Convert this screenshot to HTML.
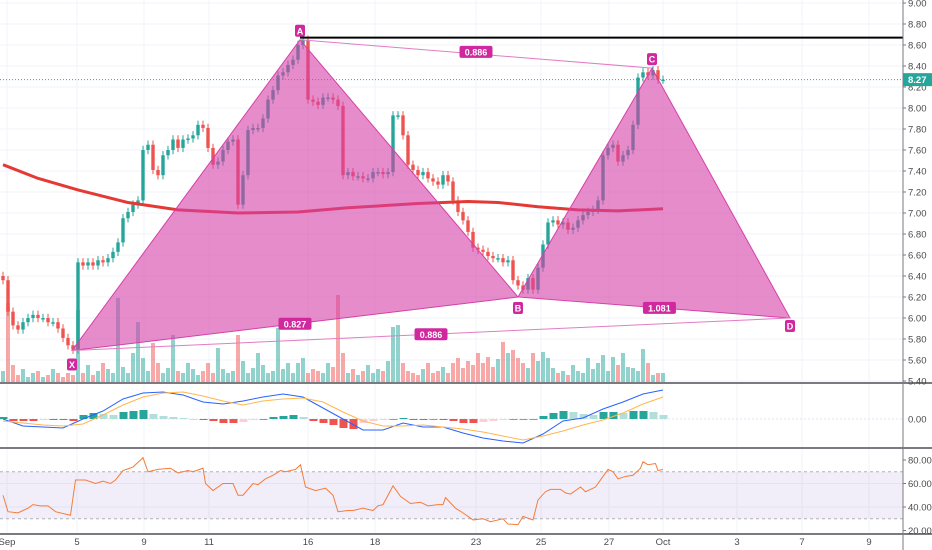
<!DOCTYPE html>
<html><head><meta charset="utf-8"><style>
html,body{margin:0;padding:0;background:#fff;width:932px;height:550px;overflow:hidden}
svg{display:block;font-family:"Liberation Sans",sans-serif}
</style></head><body>
<svg id="c" width="932" height="550" viewBox="0 0 932 550" xmlns="http://www.w3.org/2000/svg"></svg>
<script>
// ---- data ----
const closes=[6.36,6.06,5.93,5.89,5.96,6.00,6.03,6.00,6.00,5.96,5.96,5.90,5.81,5.74,5.70,6.53,6.50,6.53,6.50,6.55,6.53,6.57,6.63,6.72,6.95,7.01,7.08,7.12,7.60,7.65,7.41,7.36,7.55,7.60,7.70,7.62,7.70,7.71,7.74,7.84,7.81,7.62,7.46,7.49,7.60,7.68,7.70,7.08,7.36,7.79,7.81,7.81,7.90,8.08,8.17,8.31,8.34,8.41,8.46,8.60,8.65,8.08,8.06,8.03,8.10,8.10,8.08,8.02,7.36,7.39,7.35,7.35,7.33,7.33,7.39,7.39,7.37,7.39,7.93,7.93,7.74,7.46,7.41,7.36,7.39,7.33,7.30,7.27,7.36,7.30,7.12,7.01,6.93,6.82,6.67,6.65,6.63,6.59,6.57,6.57,6.53,6.55,6.36,6.31,6.27,6.38,6.27,6.48,6.70,6.91,6.93,6.89,6.91,6.84,6.86,6.93,6.98,7.01,7.03,7.12,7.55,7.62,7.65,7.49,7.55,7.60,7.84,8.29,8.34,8.31,8.36,8.27,8.27];
const volumes=[12,80,18,8,14,6,10,12,6,8,14,10,6,10,8,73,10,18,8,12,20,14,10,85,16,10,30,61,25,12,40,20,10,15,48,12,10,20,14,8,12,20,10,35,14,10,12,48,22,10,15,30,18,10,12,55,14,20,10,20,25,10,14,12,10,20,16,88,30,10,14,8,12,18,10,14,12,22,56,58,20,12,10,8,14,20,10,12,16,10,20,25,15,22,18,30,20,26,16,24,41,30,33,25,20,15,30,22,31,25,15,10,12,8,18,12,10,25,14,20,28,12,26,18,30,16,15,12,34,20,8,10,10];
const maBars=[0,7,15,25,35,47,59,69,83,93,99,107,115,123,132];
const maVals=[7.46,7.33,7.22,7.10,7.03,7.00,7.01,7.05,7.09,7.11,7.10,7.06,7.03,7.02,7.04];
const macdBars=[0,4,8,12,16,20,24,28,32,36,40,44,48,52,56,60,64,68,72,76,80,84,88,92,96,100,104,108,112,116,120,124,128,132];
const macdVals=[0.00,-0.07,-0.08,-0.09,0.00,0.08,0.20,0.26,0.27,0.24,0.17,0.15,0.18,0.22,0.25,0.22,0.11,0.00,-0.11,-0.11,-0.04,-0.08,-0.08,-0.14,-0.19,-0.22,-0.24,-0.15,-0.02,0.01,0.10,0.17,0.25,0.29];
const signalVals=[-0.02,-0.04,-0.06,-0.07,-0.05,0.04,0.14,0.22,0.26,0.27,0.23,0.18,0.14,0.18,0.20,0.21,0.17,0.07,-0.02,-0.07,-0.07,-0.06,-0.08,-0.10,-0.13,-0.17,-0.21,-0.17,-0.12,-0.06,-0.01,0.06,0.15,0.22];
const histVals=[0.02,-0.02,-0.02,-0.02,-0.01,-0.01,-0.01,-0.02,0.04,0.06,0.05,0.04,0.07,0.08,0.09,0.05,0.03,0.02,0.01,0.00,-0.01,-0.02,-0.04,-0.04,-0.03,-0.01,0.00,0.02,0.03,0.04,0.02,-0.02,-0.04,-0.06,-0.09,-0.10,-0.04,-0.02,-0.01,0.00,0.01,-0.01,-0.01,0.00,-0.01,-0.02,-0.04,-0.04,-0.03,-0.02,-0.01,0.00,0.00,0.00,0.03,0.06,0.08,0.07,0.05,0.04,0.07,0.07,0.06,0.08,0.08,0.07,0.04];
const rsiBars=[0,1,3,5,6,7.5,9,10.5,13.5,14.5,16.5,18.5,20,21.5,22.5,24,26,28,29,31,33.5,35,37,38,40,40.5,42,44,46,47,48,50,51,52.5,54,55.5,56.5,58.5,59.5,60.5,62.5,64.5,66,67,69,70,72,74,75,76,78,79.5,81.5,83.5,85,87,88,88.5,90.5,92,94,96,97.5,100,101,103,104,106,107,108.5,109.5,111.5,112.5,113.5,115.5,116.5,118.5,119.5,121,122,123,124.5,126,127.5,128,129,130.5,131,132];
const rsiVals=[50,36,35,39,42,41,41,36,33,63,63,60,62,60,63,71,74,82,70,72,73,69,71,70,73,60,54,60,60,50,50,60,59,64,67,71,70,72,76,57,54,56,50,36,37,37,39,37,41,42,58,49,43,44,41,42,42,48,39,35,29,30,27.5,30,25.5,25,32,29,46,53,55,55,52,51,57,53,57,63,72,70,64,66,67,73,78.5,76,77,71,72];
const priceTicks=[9.0,8.8,8.6,8.4,8.2,8.0,7.8,7.6,7.4,7.2,7.0,6.8,6.6,6.4,6.2,6.0,5.8,5.6,5.4];
const timeLabels=["Sep","5","9","11","16","18","23","25","27","Oct","3","7","9"];
const timeBars=[0.4,14.4,27.8,40.8,60.6,74,94.2,107.2,120.8,131.6,146.4,159.4,172.8];
const patternNames=["X","A","B","C","D"];
const patternBars=[13.8,59.4,103,129.8,157.4];
const patternPrices=[5.69,8.65,6.20,8.38,6.00];
const resistance=8.67;
const lastPrice=8.27;

// ---- scales ----
const AX=903;
const X=i=>3+5*i;
const Y=p=>3+(9-p)*105;
const MY=v=>419-v*100;
const RY=v=>460+(80-v)*1.175;
const svg=document.getElementById('c');
const NS='http://www.w3.org/2000/svg';
function mk(tag,attrs,parent){const e=document.createElementNS(NS,tag);for(const k in attrs)e.setAttribute(k,attrs[k]);(parent||svg).appendChild(e);return e;}
const UP='#26a69a',DN='#ef5350';

// grid
const grid=mk('g',{});


priceTicks.forEach(p=>{mk('line',{x1:0,x2:AX,y1:Y(p),y2:Y(p),stroke:'#f0f3fa','stroke-width':1},grid);});
timeBars.forEach(b=>{mk('line',{x1:X(b)+2,x2:X(b)+2,y1:0,y2:535,stroke:'#f0f3fa','stroke-width':1},grid);});
[40,60].forEach(v=>mk('line',{x1:0,x2:AX,y1:RY(v),y2:RY(v),stroke:'#f0f3fa'},grid));

// volume
const vg=mk('g',{});


volumes.forEach((v,i)=>{const o=i?closes[i-1]:closes[0];const up=closes[i]>=o;
 const r=mk('rect',{x:X(i)-2,y:383-v,width:4,height:v,fill:up?'rgba(38,166,154,0.5)':'rgba(239,83,80,0.5)'},vg);
 
 });

// candles
const cg=mk('g',{});


closes.forEach((c,i)=>{const o=i?closes[i-1]:c+0.04;const up=c>=o;const col=up?UP:DN;
 const hi=Math.max(o,c)+0.04,lo=Math.min(o,c)-0.04;
 mk('line',{x1:X(i),x2:X(i),y1:Y(hi),y2:Y(lo),stroke:col,'stroke-width':1},cg);
 const h=Math.max(1.5,Math.abs(Y(o)-Y(c)));
 const r=mk('rect',{x:X(i)-1.7,y:Math.min(Y(o),Y(c)),width:3.4,height:h,fill:col},cg);
 
 });

// moving average
const ma=mk('polyline',{points:maBars.map((b,i)=>X(b)+','+Y(maVals[i])).join(' '),fill:'none',stroke:'#e53935','stroke-width':3,'stroke-linejoin':'round'});



// last price line
const lp=mk('line',{x1:0,x2:AX,y1:Y(lastPrice),y2:Y(lastPrice),stroke:'#26a69a','stroke-width':1,'stroke-dasharray':'1 2'});



// pattern
const P=patternBars.map((b,i)=>[X(b),Y(patternPrices[i])]);
const pg=mk('g',{});


const t1=mk('polygon',{points:[P[0],P[1],P[2]].map(p=>p.join(',')).join(' '),fill:'rgba(214,63,168,0.6)',stroke:'#d63fa8','stroke-width':1},pg);


const t2=mk('polygon',{points:[P[2],P[3],P[4]].map(p=>p.join(',')).join(' '),fill:'rgba(214,63,168,0.6)',stroke:'#d63fa8','stroke-width':1},pg);


[[1,3],[0,4]].forEach(([a,b])=>mk('line',{x1:P[a][0],y1:P[a][1],x2:P[b][0],y2:P[b][1],stroke:'#e27cc4','stroke-width':1},pg));
const rl=mk('line',{x1:P[1][0],x2:AX,y1:Y(resistance),y2:Y(resistance),stroke:'#000','stroke-width':2});


function tag(x,y,txt,name){const g=mk('g',{},pg);
 
 
 const w=txt.length>1?txt.length*5.4+6:10;
 mk('rect',{x:x-w/2,y:y-6,width:w,height:12,rx:2,fill:'#d0289e'},g);
 const t=mk('text',{x:x,y:y+3.5,'text-anchor':'middle','font-size':9,'font-weight':'bold',fill:'#fff'},g);t.textContent=txt;}
const offs=[14,-9,11,-9,8];
patternNames.forEach((n,i)=>tag(P[i][0],P[i][1]+offs[i],n,'point-'+n.toLowerCase()+'-label'));
const mid=(a,b,f)=>[P[a][0]+(P[b][0]-P[a][0])*f,P[a][1]+(P[b][1]-P[a][1])*f];
let m=mid(1,3,0.5);tag(m[0],m[1]-2,'0.886','ratio-ac-label');
m=mid(0,2,0.5);tag(m[0],m[1],'0.827','ratio-xb-label');
m=mid(0,4,0.5);tag(m[0],m[1],'0.886','ratio-xd-label');
m=mid(2,4,0.52);tag(m[0],m[1],'1.081','ratio-bd-label');

// MACD pane
const mg=mk('g',{});


mk('line',{x1:0,x2:AX,y1:MY(0),y2:MY(0),stroke:'#e0e3eb','stroke-dasharray':'2 2'},mg);
histVals.forEach((v,i)=>{const prev=i?histVals[i-1]:0;
 let col=v>=0?(v>=prev?'#26a69a':'#b2dfdb'):(v<=prev?'#ef5350':'#ffcdd2');
 const y0=MY(0),y1=MY(v);
 const r=mk('rect',{x:X(i*2)-3.5,y:Math.min(y0,y1),width:8,height:Math.max(0.8,Math.abs(y1-y0)),fill:col},mg);
 
 });
const ml=mk('polyline',{points:macdBars.map((b,i)=>X(b)+','+MY(macdVals[i])).join(' '),fill:'none',stroke:'#2962ff','stroke-width':1},mg);


const sl=mk('polyline',{points:macdBars.map((b,i)=>X(b)+','+MY(signalVals[i])).join(' '),fill:'none',stroke:'#ffb74d','stroke-width':1},mg);



// RSI pane
const rg=mk('g',{});


mk('rect',{x:0,y:RY(70),width:AX,height:RY(30)-RY(70),fill:'rgba(126,87,194,0.1)'},rg);
[70,30].forEach(v=>mk('line',{x1:0,x2:AX,y1:RY(v),y2:RY(v),stroke:'#b0b0b8','stroke-dasharray':'3 3'},rg));
const rl2=mk('polyline',{points:rsiBars.map((b,i)=>X(b)+','+RY(rsiVals[i])).join(' '),fill:'none',stroke:'#f57c3a','stroke-width':1},rg);



// pane separators & axes
[[383,2],[448,2],[534,2]].forEach(([y,w])=>mk('line',{x1:0,x2:932,y1:y,y2:y,stroke:'#7a7a80','stroke-width':w}));
const ax=mk('line',{x1:AX,x2:AX,y1:0,y2:550,stroke:'#7a7a80','stroke-width':1});


function lbl(x,y,t,name,anchor){const e=mk('text',{x:x,y:y,'font-size':9.5,fill:'#4a4a4a','text-anchor':anchor||'start'});e.textContent=t;
 
 return e;}
priceTicks.forEach(p=>{mk('line',{x1:AX,x2:AX+3,y1:Y(p),y2:Y(p),stroke:'#7a7a80'});lbl(AX+5,Y(p)+3.5,p.toFixed(2),'price-tick-label');});
lbl(AX+5,MY(0)+3.5,'0.00','macd-tick-label');
[80,60,40,20].forEach(v=>{const y=RY(v);if(y<534){mk('line',{x1:AX,x2:AX+3,y1:y,y2:y,stroke:'#7a7a80'});lbl(AX+5,y+3.5,v.toFixed(2),'rsi-tick-label');}});
const lb=mk('rect',{x:AX,y:Y(lastPrice)-6.5,width:29,height:13,fill:'#26a69a'});


const lt=mk('text',{x:AX+5,y:Y(lastPrice)+3.5,'font-size':9.5,'font-weight':'bold',fill:'#fff'});lt.textContent=lastPrice.toFixed(2);
timeLabels.forEach((t,i)=>{lbl(X(timeBars[i])+2,545,t,'time-tick-label','middle');});
</script>
</body></html>
